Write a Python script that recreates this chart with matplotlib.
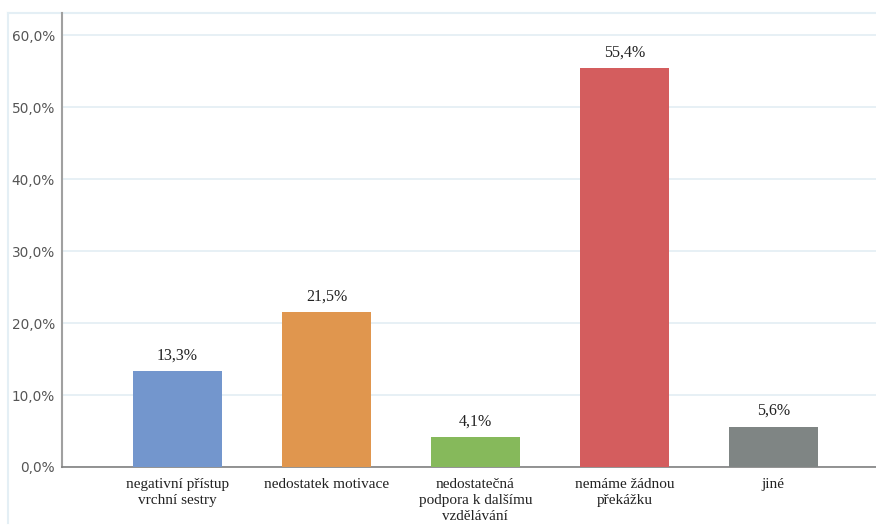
import matplotlib
matplotlib.use("Agg")
import matplotlib.pyplot as plt
from matplotlib.lines import Line2D
from matplotlib.ticker import FuncFormatter

categories = [
    "negativní přístup\nvrchní sestry",
    "nedostatek motivace",
    "nedostatečná\npodpora k dalšímu\nvzdělávání",
    "nemáme žádnou\npřekážku",
    "jiné",
]
values = [13.3, 21.5, 4.1, 55.4, 5.6]
colors = ["#7396cd", "#e0964e", "#86b95b", "#d45d5e", "#7f8584"]
y_ticks = [0, 10, 20, 30, 40, 50, 60]

W, H = 876, 525
fig = plt.figure(figsize=(W / 100, H / 100), dpi=100)
fig.patch.set_facecolor("white")

# light frame lines (top and left) around the chart area
frame = "#e4eff5"
fig.add_artist(Line2D([8 / W, 1.0], [(H - 13) / H] * 2, transform=fig.transFigure,
                      color=frame, linewidth=1.5, zorder=0))
fig.add_artist(Line2D([8 / W] * 2, [2 / H, (H - 13) / H], transform=fig.transFigure,
                      color=frame, linewidth=1.5, zorder=0))

ax = fig.add_axes([62 / W, (H - 467) / H, (W - 62) / W, (467 - 13) / H])
ax.set_facecolor("none")

x = list(range(len(categories)))
ax.bar(x, values, width=0.6, color=colors, zorder=3)

for xi, v in zip(x, values):
    ax.annotate(f"{v:.1f}%".replace(".", ","), (xi, v), xytext=(0, 5.5),
                textcoords="offset points", ha="center", va="bottom",
                fontsize=11.5, family="Liberation Serif", color="#222222")

ax.set_xlim(-0.775, 4.69)
ax.set_ylim(0, 63.06)
ax.set_yticks(y_ticks)
ax.yaxis.set_major_formatter(FuncFormatter(lambda v, p: f"{v:.1f}%".replace(".", ",")))
ax.grid(axis="y", color="#e3eef4", linewidth=1.2, zorder=0)

ax.set_xticks(x)
ax.set_xticklabels(categories, family="Liberation Serif", fontsize=11,
                   color="#222222", linespacing=1.3)
ax.tick_params(axis="x", length=0, pad=8)
ax.tick_params(axis="y", length=0, pad=5, labelsize=9.8, labelcolor="#555555")

for s in ["top", "right"]:
    ax.spines[s].set_visible(False)
ax.spines["left"].set_color("#a0a0a0")
ax.spines["left"].set_linewidth(1.5)
ax.spines["bottom"].set_color("#808080")
ax.spines["bottom"].set_linewidth(1.2)

fig.savefig("out.png", dpi=100)
